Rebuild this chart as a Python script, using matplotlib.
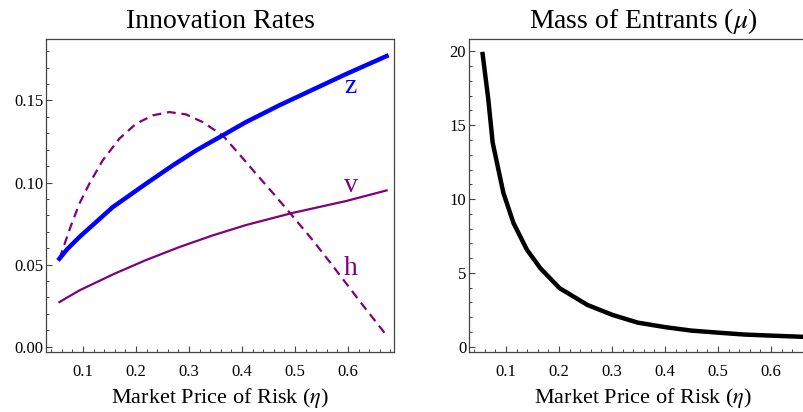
import numpy as np
import matplotlib.pyplot as plt
from matplotlib.ticker import MultipleLocator, FormatStrFormatter

# Valores
eta_z = [0.0553, 0.070, 0.093, 0.1245, 0.156, 0.2189, 0.2692, 0.3132, 0.3635,
         0.4075, 0.4704, 0.5333, 0.5962, 0.673]
z = [0.0536, 0.0594, 0.0668, 0.0759, 0.0850, 0.0993, 0.1104, 0.1195, 0.1287,
     0.1368, 0.1470, 0.1565, 0.1660, 0.1770]

eta_v = [0.0553, 0.093, 0.156, 0.2189, 0.2818, 0.3447, 0.4075, 0.4943, 0.5962, 0.673]
v = [0.0272, 0.0343, 0.0440, 0.0528, 0.0607, 0.0678, 0.0741, 0.0814, 0.0887, 0.0952]

eta_h = [0.0553, 0.0774, 0.093, 0.1119, 0.137, 0.1685, 0.200, 0.2315, 0.2629, 0.2943,
         0.3258, 0.3635, 0.395, 0.4264, 0.4579, 0.4943, 0.5333, 0.5648, 0.5962, 0.6308, 0.673]
h = [0.0536, 0.0740, 0.0871, 0.0993, 0.1135, 0.1267, 0.1358, 0.1409, 0.1429, 0.1415,
     0.1368, 0.1287, 0.1172, 0.1054, 0.0938, 0.0800, 0.0650, 0.0520, 0.0388, 0.0242, 0.0069]

eta_mu = [0.0557, 0.0664, 0.0747, 0.0949, 0.1139, 0.1393, 0.1646, 0.2008, 0.2534, 0.301,
          0.3485, 0.401, 0.4498, 0.5006, 0.5511, 0.600, 0.6665, 0.675]
mu = [19.82, 16.76, 13.82, 10.42, 8.38, 6.57, 5.32, 3.97, 2.83, 2.15,
      1.63, 1.32, 1.09, 0.95, 0.82, 0.75, 0.66, 0.65]

xticks = [0.1, 0.2, 0.3, 0.4, 0.5, 0.6]
titulos = ["Innovation Rates", r"Mass of Entrants ($\mu$)"]
etiqueta_x = r"Market Price of Risk ($\eta$)"

plt.rcParams['font.family'] = ['Liberation Serif', 'DejaVu Serif']
plt.rcParams['mathtext.fontset'] = 'stix'

azul = '#0000ff'
morado = '#800080'
marco = '#444444'

fig = plt.figure(figsize=(8.04, 4.12), dpi=100)
ax1 = fig.add_axes([46/804, 60/412, 348/804, 313/412])
ax2 = fig.add_axes([469/804, 60/412, 348/804, 313/412])

# Panel izquierdo
ax1.plot(eta_h, h, '--', color=morado, lw=1.6, dashes=(4, 2.6))
ax1.plot(eta_v, v, '-', color=morado, lw=1.6)
ax1.plot(eta_z, z, '-', color=azul, lw=3.2)
ax1.text(0.605, 0.1545, "z", color=azul, fontsize=20, ha='center', va='baseline')
ax1.text(0.605, 0.0940, "v", color=morado, fontsize=20, ha='center', va='baseline')
ax1.text(0.605, 0.0434, "h", color=morado, fontsize=20, ha='center', va='baseline')
ax1.set_xlim(0.03, 0.687)
ax1.set_ylim(-0.0032, 0.1874)
ax1.yaxis.set_major_locator(MultipleLocator(0.05))
ax1.yaxis.set_minor_locator(MultipleLocator(0.01))
ax1.yaxis.set_major_formatter(FormatStrFormatter('%.2f'))

# Panel derecho
ax2.plot(eta_mu, mu, '-', color='black', lw=3.2)
ax2.set_xlim(0.03, 0.687)
ax2.set_ylim(-0.36, 20.84)
ax2.yaxis.set_major_locator(MultipleLocator(5))
ax2.yaxis.set_minor_locator(MultipleLocator(1))

for ax, titulo in zip([ax1, ax2], titulos):
    ax.set_title(titulo, fontsize=20, pad=8)
    ax.set_xlabel(etiqueta_x, fontsize=16, labelpad=4)
    ax.set_xticks(xticks)
    ax.xaxis.set_minor_locator(MultipleLocator(0.02))
    ax.tick_params(which='both', direction='in', colors=marco, labelcolor='black',
                   labelsize=12, top=False, right=False)
    ax.tick_params(which='major', length=4, width=0.8)
    ax.tick_params(which='minor', length=2.5, width=0.7)
    ax.tick_params(axis='x', pad=9)
    ax.tick_params(axis='y', pad=2)
    for s in ax.spines.values():
        s.set_color(marco)
        s.set_linewidth(0.9)

plt.savefig("out.png", dpi=100)
